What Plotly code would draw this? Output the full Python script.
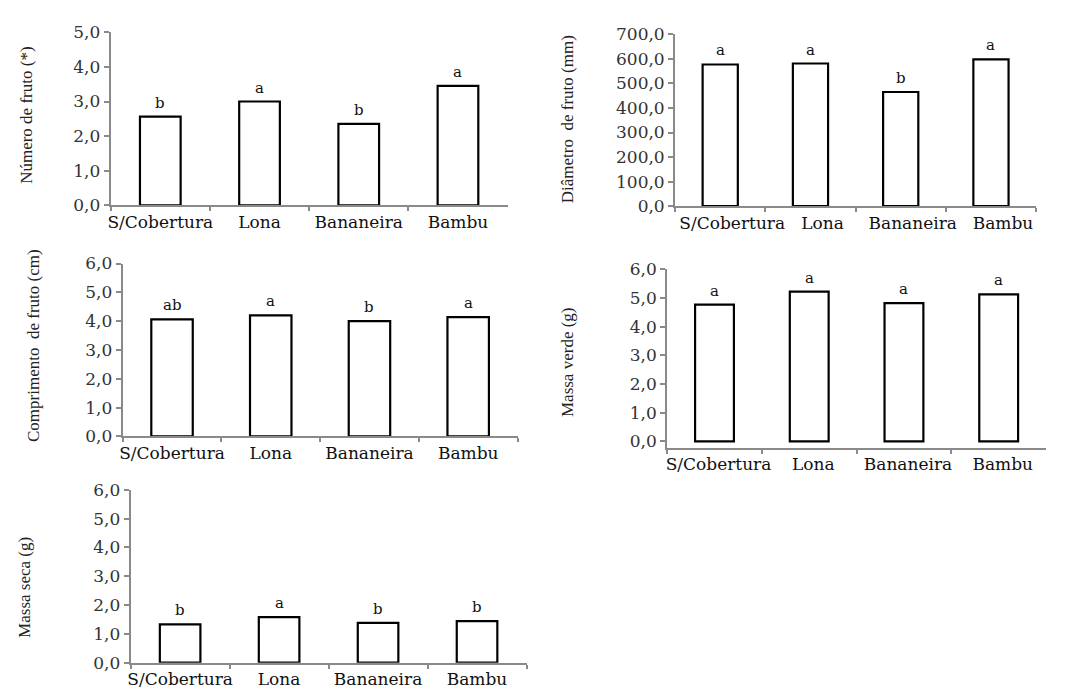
import plotly.graph_objects as go

categories = ["S/Cobertura", "Lona", "Bananeira", "Bambu"]

numero_fruto = [2.56, 3.00, 2.35, 3.45]
numero_letters = ["b", "a", "b", "a"]

diametro_fruto = [577, 581, 465, 598]
diametro_letters = ["a", "a", "b", "a"]

comprimento_fruto = [4.06, 4.20, 4.00, 4.14]
comprimento_letters = ["ab", "a", "b", "a"]

massa_verde = [4.77, 5.22, 4.82, 5.13]
massa_verde_letters = ["a", "a", "a", "a"]

massa_seca = [1.33, 1.58, 1.38, 1.44]
massa_seca_letters = ["b", "a", "b", "b"]

W, H = 1065, 697
TICKFONT = "DejaVu Serif, serif"
TITLEFONT = "Liberation Serif, Times New Roman, serif"
AXC = "#8a8a8a"

def px_x(a, b):
    return [a / W, b / W]

def px_y(top, bottom):
    return [(H - bottom) / H, (H - top) / H]

panels = [
    dict(vals=numero_fruto, letters=numero_letters, title="Número de fruto (*)",
         xd=px_x(108, 506), yd=px_y(23, 201), yr=[0, 5], tv=[0, 1, 2, 3, 4, 5],
         w=0.41, tx=24, ty=108, shift=0),
    dict(vals=diametro_fruto, letters=diametro_letters, title="Diâmetro  de fruto (mm)",
         xd=px_x(674, 1036), yd=px_y(25, 202), yr=[0, 700], tv=[0, 100, 200, 300, 400, 500, 600, 700],
         w=0.39, tx=566, ty=112, shift=12),
    dict(vals=comprimento_fruto, letters=comprimento_letters, title="Comprimento  de fruto (cm)",
         xd=px_x(120, 516), yd=px_y(261, 439), yr=[0, 6], tv=[0, 1, 2, 3, 4, 5, 6],
         w=0.42, tx=30, ty=345, shift=0),
    dict(vals=massa_verde, letters=massa_verde_letters, title="Massa verde (g)",
         xd=px_x(666, 1046), yd=px_y(267, 451), yr=[-0.23, 6], tv=[0, 1, 2, 3, 4, 5, 6],
         w=0.41, tx=566, ty=362, shift=4),
    dict(vals=massa_seca, letters=massa_seca_letters, title="Massa seca (g)",
         xd=px_x(128, 525), yd=px_y(494, 672), yr=[0, 6], tv=[0, 1, 2, 3, 4, 5, 6],
         w=0.41, tx=22, ty=594, shift=0),
]

fig = go.Figure()
annotations = []
layout = {}
for i, p in enumerate(panels, start=1):
    xa = "x" if i == 1 else f"x{i}"
    ya = "y" if i == 1 else f"y{i}"
    fig.add_trace(go.Bar(
        x=categories, y=p["vals"], width=p["w"], xaxis=xa, yaxis=ya,
        marker=dict(color="white", line=dict(color="black", width=2.2)),
        showlegend=False, hoverinfo="x+y",
    ))
    layout[f"xaxis{'' if i == 1 else i}"] = dict(
        domain=p["xd"], anchor=ya, type="category", range=[-0.5, 3.5],
        showline=True, linecolor=AXC, linewidth=2, ticks="outside", tickson="boundaries",
        ticklen=4, tickcolor=AXC, tickwidth=1.5, showgrid=False, zeroline=False,
        tickangle=0, ticklabelshift=p["shift"],
        tickfont=dict(family=TICKFONT, size=17, color="#111"),
    )
    layout[f"yaxis{'' if i == 1 else i}"] = dict(
        domain=p["yd"], anchor=xa, range=p["yr"], tickvals=p["tv"],
        ticktext=[f"{v:.1f}".replace(".", ",") for v in p["tv"]],
        showline=True, linecolor=AXC, linewidth=2, ticks="outside",
        ticklen=5, tickcolor=AXC, tickwidth=1.5, showgrid=False, zeroline=False,
        tickfont=dict(family=TICKFONT, size=17, color="#333"),
    )
    for c, v, l in zip(categories, p["vals"], p["letters"]):
        annotations.append(dict(
            x=c, y=v, xref=xa, yref=ya, text=l, showarrow=False,
            yanchor="bottom", yshift=3, font=dict(family=TICKFONT, size=15, color="#111"),
        ))
    annotations.append(dict(
        x=p["tx"] / W, y=(H - p["ty"]) / H, xref="paper", yref="paper",
        text=p["title"], textangle=-90, showarrow=False,
        xanchor="center", yanchor="middle",
        font=dict(family=TITLEFONT, size=17, color="#222"),
    ))

fig.update_layout(
    width=W, height=H, margin=dict(l=0, r=0, t=0, b=0),
    paper_bgcolor="white", plot_bgcolor="white",
    annotations=annotations, **layout,
)

fig.write_html(
    "out.html",
    config={"displayModeBar": False},
    post_script="document.body.style.margin='0px';document.body.style.padding='0px';",
)
